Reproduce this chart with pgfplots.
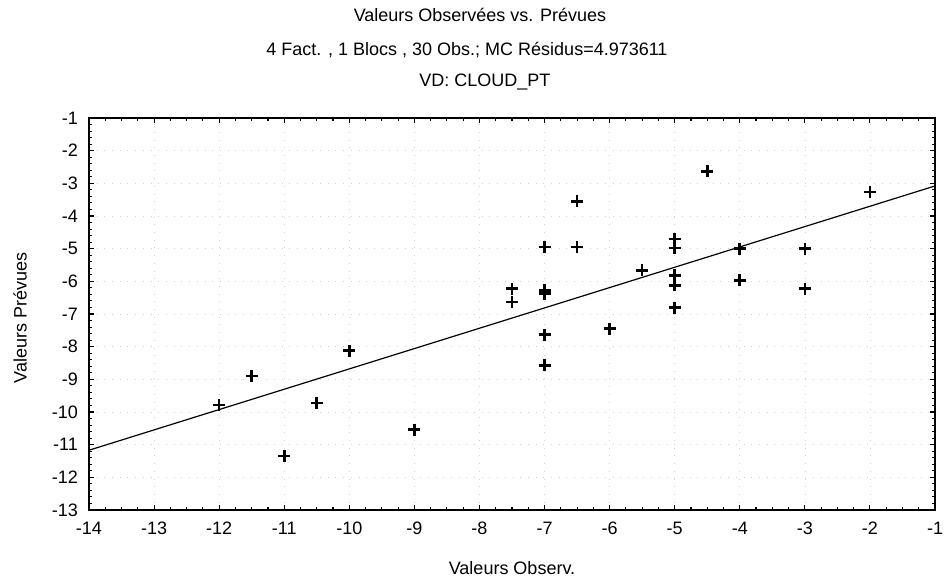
\documentclass[border=0pt]{standalone}
\usepackage{fontspec}
\setmainfont{Liberation Sans}
\usepackage{pgfplots}
\pgfplotsset{compat=1.18}

\begin{document}
\fontsize{18}{21}\selectfont
\begin{tikzpicture}[x=1pt,y=1pt]
\begin{axis}[
  at={(0,0)}, anchor=south west,
  scale only axis, width=846pt, height=392pt,
  xmin=-14, xmax=-1, ymin=-13, ymax=-1,
  xtick={-14,-13,...,-1}, ytick={-13,-12,...,-1},
  minor x tick num=3, minor y tick num=4,
  tick align=inside,
  major tick length=5pt, minor tick length=3.5pt,
  every tick/.style={black, line width=1.1pt},
  axis line style={line width=1.6pt},
  grid=major,
  grid style={gray!35, line width=0.7pt, dash pattern=on 0.7pt off 7pt},
  tick label style={font=\fontsize{18}{21}\selectfont},
  xticklabel style={yshift=-6pt},
  yticklabel style={xshift=-5pt},
  /pgf/number format/assume math mode=true,
  clip=false,
]
% observed vs predicted values
\addplot[only marks, mark=+, mark size=6pt, mark options={line width=2.6pt}, black]
  coordinates {
  (-12,-9.78) (-11.5,-8.9) (-11,-11.35) (-10.5,-9.73) (-10,-8.12) (-9,-10.54)
  (-7.5,-6.22) (-7.5,-6.63)
  (-7,-4.95) (-7,-6.28) (-7,-6.38) (-7,-7.63) (-7,-8.57)
  (-6.5,-3.55) (-6.5,-4.95)
  (-6,-7.45) (-5.5,-5.66)
  (-5,-4.71) (-5,-4.98) (-5,-5.82) (-5,-6.12) (-5,-6.81)
  (-4.5,-2.63)
  (-4,-5.0) (-4,-5.97)
  (-3,-5.0) (-3,-6.22)
  (-2,-3.27)
  };
% fitted line
\addplot[black, line width=1.2pt] coordinates {(-14,-11.17) (-1,-3.08)};
\end{axis}
\node at (391,495) {Valeurs Observées vs. Prévues};
\node at (378,460) {4 Fact. , 1 Blocs , 30 Obs.; MC Résidus=4.973611};
\node at (396,428) {VD: CLOUD\_PT};
\node[rotate=90] at (-69,192) {Valeurs Prévues};
\node at (423,-58) {Valeurs Observ.};
\pgfresetboundingbox
\path (-89,-74) rectangle (856,510);
\end{tikzpicture}
\end{document}
